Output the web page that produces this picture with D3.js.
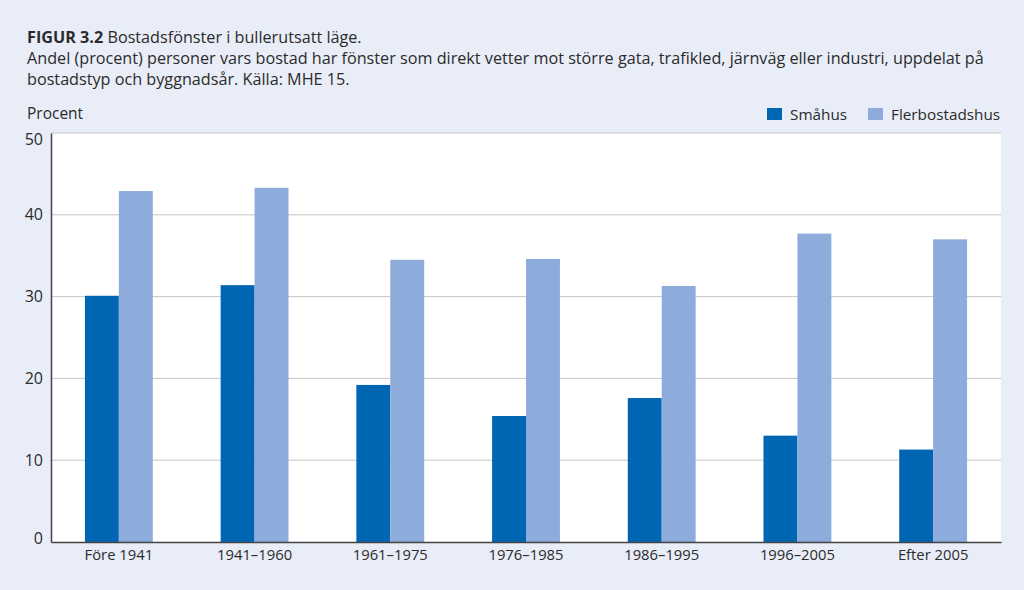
<!DOCTYPE html>
<html><head><meta charset="utf-8">
<script src="https://cdn.jsdelivr.net/npm/d3@7"></script>
<style>
html,body{margin:0;padding:0;background:#e9edf8;}
svg{display:block;font-family:"Open Sans","Noto Sans",sans-serif;}
</style></head>
<body><svg id="c" width="1024" height="590"></svg>
<script>
const categories = ["Före 1941","1941–1960","1961–1975","1976–1985","1986–1995","1996–2005","Efter 2005"];
const seriesNames = ["Småhus","Flerbostadshus"];
const smahus = [30.1, 31.4, 19.2, 15.4, 17.6, 13.0, 11.3];
const flerbostadshus = [42.9, 43.3, 34.5, 34.6, 31.3, 37.7, 37.0];
const yTicks = [0,10,20,30,40,50];
const colors = ["#0066b3","#8dabdb"];

const svg = d3.select("#c");
const m = {left:51, right:1001, top:133, bottom:542};
const textCol = "#2b2b2b";

// Title
const t = svg.append("text").attr("x",27).attr("y",43).attr("fill",textCol).style("font-size","16.2px");
t.append("tspan").attr("font-weight","bold").text("FIGUR 3.2");
t.append("tspan").text(" Bostadsfönster i bullerutsatt läge.");
svg.append("text").attr("x",27).attr("y",64).attr("fill",textCol).style("font-size","16.2px")
  .text("Andel (procent) personer vars bostad har fönster som direkt vetter mot större gata, trafikled, järnväg eller industri, uppdelat på");
svg.append("text").attr("x",27).attr("y",85).attr("fill",textCol).style("font-size","16.2px")
  .text("bostadstyp och byggnadsår. Källa: MHE 15.");

svg.append("text").attr("x",27).attr("y",119).attr("fill",textCol).style("font-size","15.5px").text("Procent");

// plot bg
svg.append("rect").attr("x",m.left).attr("y",m.top).attr("width",m.right-m.left).attr("height",m.bottom-m.top).attr("fill","#fff");

const x0 = d3.scaleBand().domain(categories).range([m.left,m.right]).paddingInner(0.5).paddingOuter(0.25);
const x1 = d3.scaleBand().domain(seriesNames).range([0,x0.bandwidth()]);
const y = d3.scaleLinear().domain([0,50]).range([m.bottom,m.top]);

// grid
svg.append("g").selectAll("line").data(yTicks.filter(d=>d>0)).join("line")
  .attr("x1",m.left).attr("x2",m.right).attr("y1",d=>y(d)).attr("y2",d=>y(d))
  .attr("stroke","#c6c6c6").attr("stroke-width",1);

// bars
const data = categories.map((c,i)=>({c, vals:[smahus[i], flerbostadshus[i]]}));
const g = svg.append("g").selectAll("g").data(data).join("g").attr("transform",d=>`translate(${x0(d.c)},0)`);
g.selectAll("rect").data(d=>d.vals.map((v,j)=>({s:seriesNames[j],v,j}))).join("rect")
  .attr("x",d=>x1(d.s)).attr("width",x1.bandwidth())
  .attr("y",d=>y(d.v)).attr("height",d=>y(0)-y(d.v)).attr("fill",d=>colors[d.j]);

// y axis
const ya = svg.append("g").attr("transform",`translate(${m.left},0)`)
  .call(d3.axisLeft(y).tickValues(yTicks).tickSize(0).tickPadding(8));
ya.select(".domain").attr("stroke","#444").attr("stroke-width",1.5);
ya.selectAll("text").attr("fill",textCol).style("font-size","16px").style("font-family",'"Open Sans","Noto Sans",sans-serif')
  .attr("y",d=> d===50 ? 6 : (d===0 ? -4 : 0));

// x axis
const xa = svg.append("g").attr("transform",`translate(0,${m.bottom})`)
  .call(d3.axisBottom(x0).tickSize(0).tickPadding(7));
xa.select(".domain").attr("stroke","#444").attr("stroke-width",1.5);
xa.selectAll("text").attr("fill",textCol).style("font-size","14.8px").style("font-family",'"Open Sans","Noto Sans",sans-serif');

// legend
const leg = [{n:seriesNames[0],x:767,tx:790},{n:seriesNames[1],x:868,tx:891}];
leg.forEach((l,i)=>{
  svg.append("rect").attr("x",l.x).attr("y",108).attr("width",15).attr("height",12).attr("fill",colors[i]);
  svg.append("text").attr("x",l.tx).attr("y",120).attr("fill",textCol).style("font-size","15.3px").text(l.n);
});
</script></body></html>
